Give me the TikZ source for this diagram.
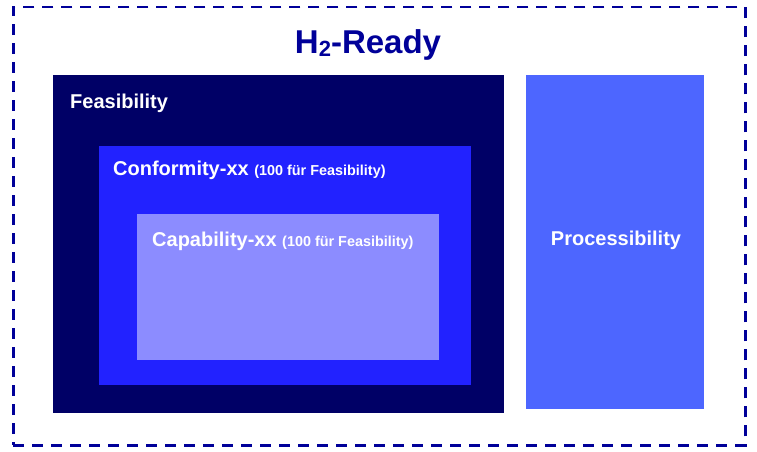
\documentclass[tikz,border=0pt]{standalone}
\usepackage{fontspec}
\setmainfont{Liberation Sans}
\usepackage{tikz}
\usetikzlibrary{positioning}
\definecolor{titleblue}{HTML}{000099}
\definecolor{feasblue}{HTML}{000066}
\definecolor{confblue}{HTML}{2222FF}
\definecolor{capblue}{HTML}{8C8CFF}
\definecolor{procblue}{HTML}{4D66FF}
\newcommand{\smallnote}[1]{{\fontsize{14.4}{16}\selectfont #1}}
\begin{document}
\begin{tikzpicture}[
		x=1pt,y=-1pt,
		every node/.append style={inner sep=0pt,font=\bfseries},
		box/.style={draw=none,anchor=north west},
		lbl/.style={text=white,anchor=base west,font=\bfseries\fontsize{20}{22}\selectfont}
	]
	\useasboundingbox (0,0) rectangle (757,452);
	\node[box,draw=titleblue,line width=2.5pt,dash pattern=on 11pt off 8pt,minimum width=732pt,minimum height=438pt] (frame) at (12,6) {};
	\node[anchor=base,text=titleblue,font=\bfseries\fontsize{33}{36}\selectfont] (title) at (368,53) {H{\fontsize{22}{24}\selectfont\raisebox{-3pt}{2}}-Ready};
	\node[box,fill=feasblue,minimum width=451pt,minimum height=338pt] (feas) at (53,75) {};
	\node[box,fill=confblue,minimum width=372pt,minimum height=239pt] (conf) at (99,146) {};
	\node[box,fill=capblue,minimum width=302pt,minimum height=146pt] (cap) at (137,214) {};
	\node[box,fill=procblue,minimum width=178pt,minimum height=334pt] (proc) at (526,75) {};
	\node[lbl] (feaslbl) at (70,108) {Feasibility};
	\node[lbl] (conflbl) at (113,175) {Conformity-xx \smallnote{(100 für Feasibility)}};
	\node[lbl] (caplbl) at (152,246) {Capability-xx \smallnote{(100 für Feasibility)}};
	\node[lbl,anchor=base] (proclbl) at (616,245) {Processibility};
\end{tikzpicture}
\end{document}
